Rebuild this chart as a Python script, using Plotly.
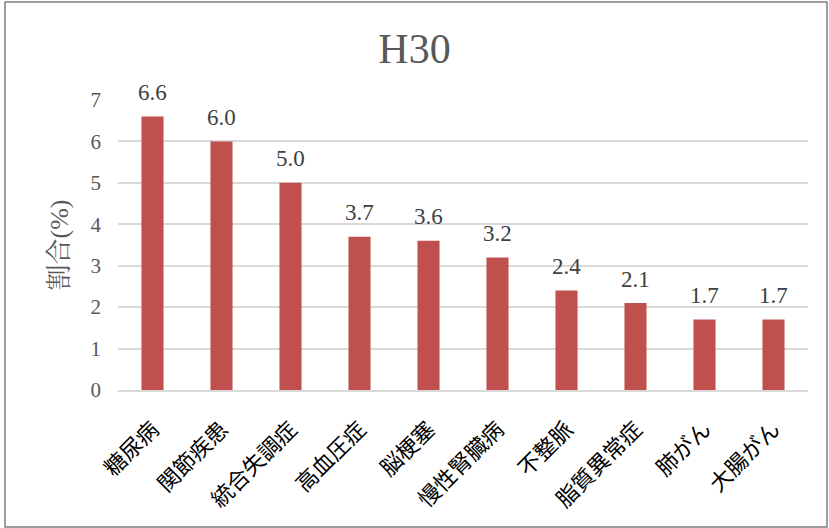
import plotly.graph_objects as go

categories = ["糖尿病", "関節疾患", "統合失調症", "高血圧症", "脳梗塞", "慢性腎臓病", "不整脈", "脂質異常症", "肺がん", "大腸がん"]
values = [6.6, 6.0, 5.0, 3.7, 3.6, 3.2, 2.4, 2.1, 1.7, 1.7]
y_ticks = [0, 1, 2, 3, 4, 5, 6, 7]

W, H = 829, 528
L, R, T, B = 118, 21, 100, 138
pw, ph = W - L - R, H - T - B

FONT = "Liberation Serif, Noto Serif CJK JP, Noto Sans CJK JP, serif"

fig = go.Figure(go.Bar(
    x=categories, y=values,
    marker=dict(color="#C0504D", line=dict(width=0)),
    cliponaxis=False,
))

for c, v in zip(categories, values):
    fig.add_annotation(x=c, y=v, text=f"{v:.1f}", showarrow=False,
                       yanchor="middle", yshift=24,
                       font=dict(family=FONT, size=23, color="#404040"))

fig.update_layout(
    width=W, height=H,
    margin=dict(l=L, r=R, t=T, b=B),
    paper_bgcolor="white", plot_bgcolor="white",
    bargap=0.68,
    showlegend=False,
    title=dict(text="H30", x=0.5, xanchor="center", y=1 - 48 / H, yanchor="middle",
               font=dict(family=FONT, size=42, color="#595959")),
    xaxis=dict(
        tickangle=-45,
        tickfont=dict(family="Noto Sans CJK JP", size=22, color="#000000"),
        showgrid=False, showline=True, linecolor="#D9D9D9", linewidth=1.5,
        ticks="", ticklabelstandoff=16,
    ),
    yaxis=dict(
        range=[0, 7], tickvals=y_ticks,
        tickfont=dict(family=FONT, size=21, color="#595959"),
        showgrid=True, gridcolor="#D9D9D9", gridwidth=1.5,
        zeroline=False, showline=False, ticks="", ticklabelstandoff=16,
        title=dict(text="割合(%)", font=dict(family=FONT, size=26, color="#595959"), standoff=14),
    ),
)

fig.add_shape(type="rect", xref="paper", yref="paper",
              x0=(5 - L) / pw, x1=(827 - L) / pw,
              y0=-(527 - T - ph) / ph, y1=1 + (T - 2) / ph,
              line=dict(color="#7F7F7F", width=1.5), fillcolor="rgba(0,0,0,0)", layer="below")

fig.write_html("out.html")
